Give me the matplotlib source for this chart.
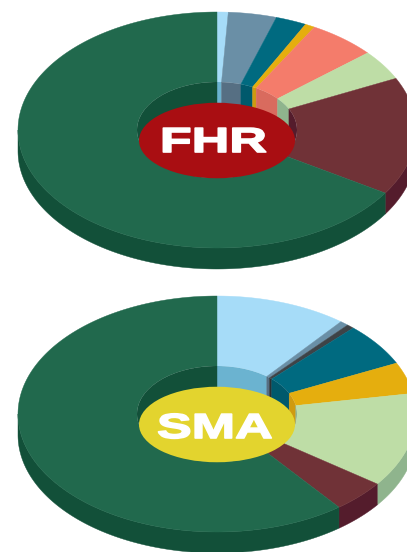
import numpy as np
import matplotlib.pyplot as plt
from matplotlib.patches import Ellipse, Polygon
from matplotlib.patheffects import AbstractPathEffect
from matplotlib.transforms import Affine2D

# slice shares in percent, clockwise from 12 o'clock
fhr_values = [0.9, 3.9, 2.5, 0.8, 5.5, 4.1, 16.1, 65.7]
fhr_colors = ["#A6DCF8", "#6A8FA6", "#006A80", "#E5AE0E", "#F47C6B", "#BEDDA6", "#703237", "#21694D"]
fhr_walls = ["#6BB3D0", "#566F83", "#00596C", "#CF9A10", "#D96B5E", "#8FB48D", "#541C2C", "#125039"]

sma_values = [10.7, 0.7, 0.6, 5.9, 4.3, 12.9, 4.4, 60.5]
sma_colors = ["#A6DCF8", "#6A8FA6", "#3E4347", "#006A80", "#E5AE0E", "#BEDDA6", "#703237", "#21694D"]
sma_walls = ["#6BB3D0", "#566F83", "#2C3033", "#00596C", "#CF9A10", "#8FB48D", "#541C2C", "#125039"]

RX, RY = 199, 118
HX, HY = 80, 48
DEPTH = 21


class WideText(AbstractPathEffect):
    # the labels are stretched sideways and heavier in the original
    def __init__(self, pivot, sx, stroke):
        super().__init__()
        self.stretch = Affine2D().translate(-pivot[0], 0).scale(sx, 1).translate(pivot[0], 0)
        self.stroke = stroke

    def draw_path(self, renderer, gc, tpath, affine, rgbFace=None):
        gc0 = renderer.new_gc()
        gc0.copy_properties(gc)
        gc0.set_foreground(rgbFace)
        gc0.set_linewidth(self.stroke)
        renderer.draw_path(gc0, tpath, affine + self.stretch, rgbFace)
        gc0.restore()


def arc(cx, cy, rx, ry, t0, t1):
    t = np.radians(np.linspace(t0, t1, max(int(abs(t1 - t0) * 2), 2)))
    return np.column_stack([cx + rx * np.sin(t), cy - ry * np.cos(t)])


def donut(ax, cy, values, colors, walls, label, label_color, label_x, label_y):
    cx = 217
    edges = np.concatenate([[0], np.cumsum(values)]) * 360. / np.sum(values)

    hole = Ellipse((cx, cy), 2 * HX, 2 * HY, fc="none", ec="none")
    ax.add_patch(hole)

    for i in range(len(values)):
        t0, t1 = edges[i], edges[i + 1]

        # outer rim, only the front half shows
        a, b = max(t0, 90), min(t1, 270)
        if b > a:
            top = arc(cx, cy, RX, RY, a, b)
            low = top + [0, DEPTH]
            ax.add_patch(Polygon(np.vstack([top, low[::-1]]), fc=walls[i], ec=walls[i], lw=.3, zorder=2))

        # top face
        outer = arc(cx, cy, RX, RY, t0, t1)
        inner = arc(cx, cy, HX, HY, t0, t1)
        ax.add_patch(Polygon(np.vstack([outer, inner[::-1]]), fc=colors[i], ec=colors[i], lw=.3, zorder=3))

        # inside wall of the hole, clipped to the hole
        top = arc(cx, cy, HX, HY, t0, t1)
        low = top + [0, 2 * HY]
        wall = Polygon(np.vstack([top, low[::-1]]), fc=walls[i], ec=walls[i], lw=.3, zorder=4)
        ax.add_patch(wall)
        wall.set_clip_path(hole)

    ax.add_patch(Ellipse((cx, cy + 10.5), 156, 75.5, fc=label_color, ec="none", zorder=5))
    txt = ax.text(label_x, label_y, label, color="white", fontsize=25, fontweight="bold",
                  family="Liberation Sans", ha="center", va="baseline", zorder=6)
    txt.set_path_effects([WideText(ax.transData.transform((label_x, label_y)), 1.5, 1.2)])


fig = plt.figure(figsize=[4.07, 5.52], dpi=100)
ax = fig.add_axes([0, 0, 1, 1])
ax.set_xlim(0, 407)
ax.set_ylim(552, 0)
ax.axis("off")

donut(ax, 130, fhr_values, fhr_colors, fhr_walls, "FHR", "#A90E12", 213.5, 152)
donut(ax, 414, sma_values, sma_colors, sma_walls, "SMA", "#E3D42E", 215, 438)

fig.savefig("out.png", dpi=100)
